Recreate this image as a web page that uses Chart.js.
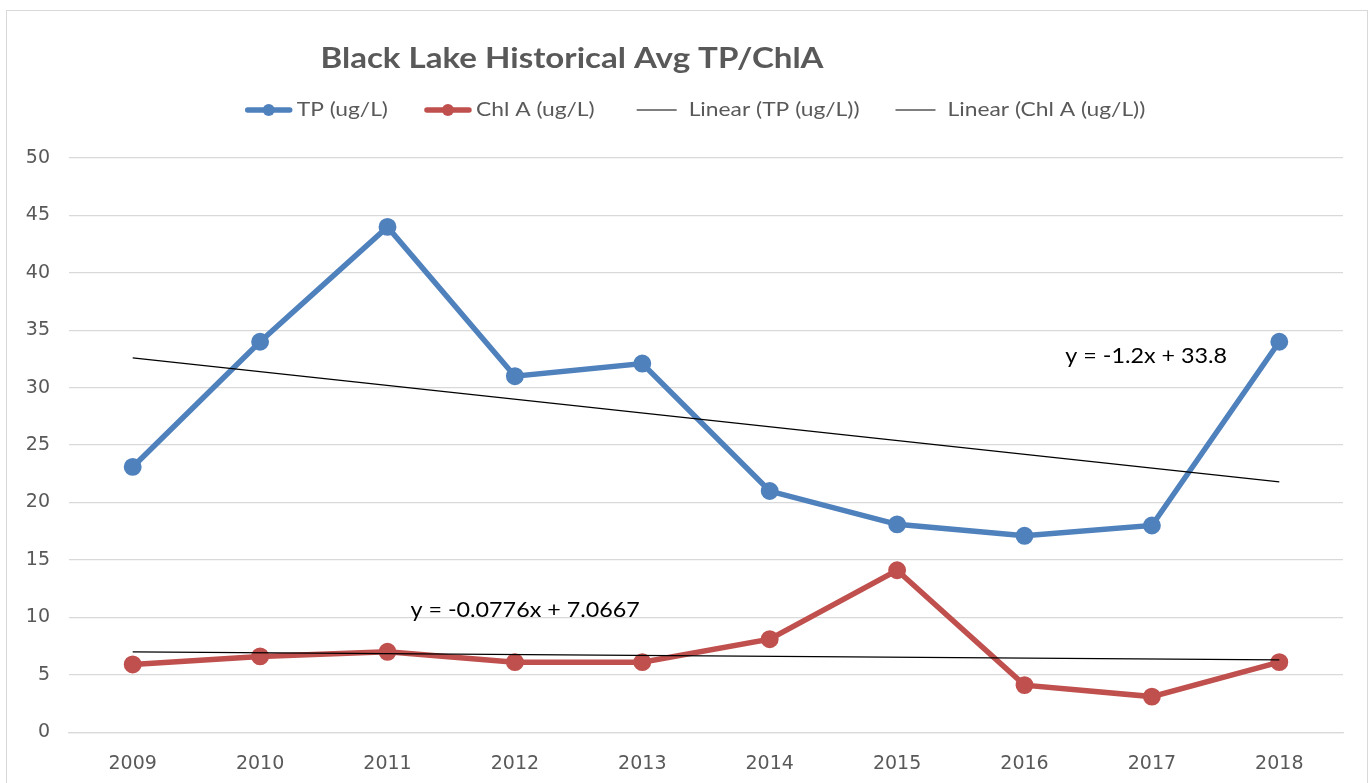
<!DOCTYPE html>
<html>
<head>
<meta charset="utf-8">
<title>Black Lake Historical Avg TP/ChlA</title>
<script src="https://cdn.jsdelivr.net/npm/chart.js@4.4.1/dist/chart.umd.min.js"></script>
<style>
  html, body { margin: 0; padding: 0; background: #fff; overflow: hidden; }
  #box {
    position: absolute; left: 6px; top: 10px;
    width: 1362px; height: 790px;
    border: 1px solid #d9d9d9; box-sizing: border-box;
  }
</style>
</head>
<body>
<div id="box"><canvas id="chart"></canvas></div>
<script>
// ---------- data ----------
const years = ["2009", "2010", "2011", "2012", "2013", "2014", "2015", "2016", "2017", "2018"];
const tpValues  = [23.1, 34, 44, 31, 32.1, 21, 18.1, 17.1, 18, 34];
const chlValues = [5.9, 6.6, 7.0, 6.1, 6.1, 8.1, 14.1, 4.1, 3.1, 6.1];
// trend lines: only the two end values as seen
const tpTrend  = [32.6, null, null, null, null, null, null, null, null, 21.8];
const chlTrend = [7.0, null, null, null, null, null, null, null, null, 6.3];
const tpEquation  = "y = -1.2x + 33.8";
const chlEquation = "y = -0.0776x + 7.0667";
const chartTitle = "Black Lake Historical Avg TP/ChlA";

const BLUE = "#4f81bd";
const RED = "#c0504d";
const GREY = "#595959";

// text drawn a bit wider, like the original
function wideText(ctx, text, x, y, sx, align)
{
    const w = ctx.measureText(text).width * sx;
    let left = x;
    if (align === "center") left = x - w / 2;
    ctx.save();
    ctx.translate(left, y);
    ctx.scale(sx, 1);
    ctx.textAlign = "left";
    ctx.fillText(text, 0, 0);
    ctx.restore();
    return w;
}

// title, legend and trend equations
const extras = {
    id: "extras",
    afterDraw(chart)
    {
        const ctx = chart.ctx;
        const x = chart.scales.x, y = chart.scales.y;
        ctx.save();
        ctx.textBaseline = "middle";

        // title
        ctx.fillStyle = GREY;
        ctx.font = "bold 29px Lato";
        wideText(ctx, chartTitle, 565, 48, 1.14, "center");

        // legend
        ctx.font = "19px Lato";
        const sx = 1.2, slot = 54, gap = 34, ly = 99;
        const items = chart.data.datasets.map(ds => ({
            text: ds.label, color: ds.borderColor, thick: ds.borderWidth > 2
        }));
        let total = 0;
        items.forEach(it => { total += slot + ctx.measureText(it.text).width * sx; });
        total += gap * (items.length - 1);
        let lx = 686 - total / 2;
        items.forEach(it => {
            ctx.strokeStyle = it.color;
            ctx.fillStyle = it.color;
            ctx.lineWidth = it.thick ? 5.5 : 1.2;
            ctx.lineCap = it.thick ? "round" : "butt";
            ctx.beginPath();
            ctx.moveTo(lx + (it.thick ? 3 : 6), ly);
            ctx.lineTo(lx + (it.thick ? 45 : 46), ly);
            ctx.stroke();
            if (it.thick)
            {
                ctx.beginPath();
                ctx.arc(lx + 24, ly, 6, 0, Math.PI * 2);
                ctx.fill();
            }
            ctx.fillStyle = GREY;
            const w = wideText(ctx, it.text, lx + slot - (it.thick ? 2 : -4), ly, sx, "left");
            lx += slot + w + gap;
        });

        // equations
        ctx.fillStyle = "#000";
        ctx.font = "21px Lato";
        wideText(ctx, tpEquation, x.getPixelForValue(7.32), y.getPixelForValue(32.7), 1.11, "left");
        wideText(ctx, chlEquation, x.getPixelForValue(2.18), y.getPixelForValue(10.65), 1.11, "left");
        ctx.restore();
    }
};

new Chart(document.getElementById("chart"), {
    type: "line",
    data: {
        labels: years,
        datasets: [
            { label: "TP (ug/L)", data: tpValues, borderColor: BLUE, backgroundColor: BLUE,
              borderWidth: 5.5, pointRadius: 6.2, pointHoverRadius: 6.2, order: 2 },
            { label: "Chl A (ug/L)", data: chlValues, borderColor: RED, backgroundColor: RED,
              borderWidth: 5.5, pointRadius: 6.2, pointHoverRadius: 6.2, order: 2 },
            { label: "Linear (TP (ug/L))", data: tpTrend, borderColor: "#000", backgroundColor: "#000",
              borderWidth: 1.2, pointRadius: 0, spanGaps: true, order: 1 },
            { label: "Linear (Chl A (ug/L))", data: chlTrend, borderColor: "#000", backgroundColor: "#000",
              borderWidth: 1.2, pointRadius: 0, spanGaps: true, order: 1 }
        ]
    },
    options: {
        responsive: true,
        maintainAspectRatio: false,
        animation: false,
        layout: { padding: { top: 147, right: 24, bottom: 4, left: 0 } },
        plugins: {
            tooltip: { enabled: false },
            title: { display: false },
            legend: { display: false }
        },
        scales: {
            x: {
                offset: true,
                grid: { display: false, drawTicks: false },
                border: { display: true, color: "#d9d9d9", width: 1.3 },
                ticks: { color: GREY, font: { family: "DejaVu Sans", size: 19 }, padding: 20 }
            },
            y: {
                min: 0, max: 50,
                afterFit(scale) { scale.width = 62; },
                grid: { color: "#d9d9d9", drawTicks: false, lineWidth: 1.3 },
                border: { display: false },
                ticks: { stepSize: 5, color: GREY, font: { family: "DejaVu Sans", size: 19 }, padding: 19 }
            }
        }
    },
    plugins: [extras]
});
</script>
</body>
</html>
